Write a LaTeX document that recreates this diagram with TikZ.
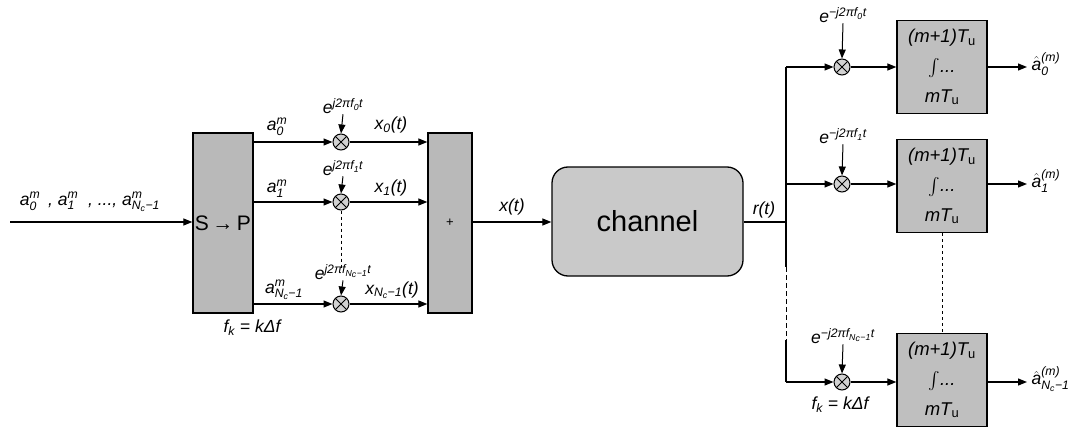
\documentclass[tikz,border=0pt]{standalone}
\usepackage{amsmath}
\usepackage{fontspec}
\setmainfont{Liberation Sans}
\usetikzlibrary{arrows.meta,calc}
\begin{document}
\begin{tikzpicture}[x=1pt,y=-1pt,
  line width=1.2pt,
  arr/.style={-{Triangle[length=9pt,width=7pt]}},
  tallbox/.style={draw, line width=1.3pt, fill=gray!55, inner sep=0, minimum width=#1, minimum height=180pt},
  intbox/.style={draw, line width=1.3pt, fill=gray!50, inner sep=0, minimum width=90pt, minimum height=93pt},
  chbox/.style={draw, line width=1.3pt, fill=gray!42, rounded corners=16pt, minimum width=191pt, minimum height=109pt, font=\fontsize{29}{34}\selectfont},
  mult/.style={circle, draw, line width=1pt, fill=gray!35, minimum size=16pt, inner sep=0,
    path picture={\draw[line width=0.9pt] (path picture bounding box.north west) -- (path picture bounding box.south east)
      (path picture bounding box.north east) -- (path picture bounding box.south west);}},
  lab/.style={inner sep=0, font=\fontsize{17.5}{20}\selectfont\itshape},
  blab/.style={inner sep=0, font=\fontsize{18.5}{21}\selectfont\itshape},
  dashbus/.style={line width=1pt, dash pattern=on 5pt off 3pt},
  dotline/.style={line width=1pt, dash pattern=on 3pt off 3pt}
]
\useasboundingbox (0,0) rectangle (1088,428);

% ---------- transmitter ----------
\coordinate (in) at (10,222);
\node[lab] (inlab) at (90,202) {a$_\text{0}^\text{m}$\, , a$_\text{1}^\text{m}$\ \ , ..., a$_{\text{N}_\text{c}\text{−1}}^\text{m}$};
\node[tallbox=60pt, font=\fontsize{21}{24}\selectfont] (sp) at (223,223) {S\,→\,P};
\node[tallbox=44pt, font=\fontsize{13}{15}\selectfont] (sum) at (450,223) {+};
\draw[arr] (in) -- (sp.west |- in);

\node[mult] (m0) at (341,142) {};
\node[mult] (m1) at (341,202) {};
\node[mult] (m2) at (341,304) {};

\foreach \m in {m0,m1,m2}{
  \draw[arr] (sp.east |- \m) -- (\m.west);
  \draw[arr] (\m.east) -- (sum.west |- \m);
}
\draw[dotline] (m1.south) -- (341,270);

\node[lab] (e0) at (343,106) {e$^{\text{j2πf}_\text{0}\text{t}}$};
\node[lab] (e1) at (343,168) {e$^{\text{j2πf}_\text{1}\text{t}}$};
\node[lab] (e2) at (343,272) {e$^{\text{j2πf}_{\text{N}_\text{c}\text{−1}}\text{t}}$};
\draw[arr, line width=1pt] (e0.south) -- (m0.north);
\draw[arr, line width=1pt] (e1.south) -- (m1.north);
\draw[arr, line width=1pt] (e2.south) -- (m2.north);

\node[lab] (a0) at (277,127) {a$_\text{0}^\text{m}$};
\node[lab] (a1) at (277,189) {a$_\text{1}^\text{m}$};
\node[lab] (a2) at (284,290) {a$_{\text{N}_\text{c}\text{−1}}^\text{m}$};
\node[lab] (x0) at (391,125) {x$_\text{0}$(t)};
\node[lab] (x1) at (391,188) {x$_\text{1}$(t)};
\node[lab] (x2) at (392,290) {x$_{\text{N}_\text{c}\text{−1}}$(t)};
\node[lab] (fk1) at (252,328) {f$_\text{k}$ = kΔf};

% ---------- channel ----------
\node[chbox] (ch) at (647.5,221.5) {channel};
\draw[arr] (sum.east |- 0,222) -- (ch.west |- 0,222);
\node[lab] (xt) at (512,207) {x(t)};
\node[lab] (rt) at (764,210) {r(t)};

% ---------- receiver ----------
\coordinate (bj) at (786,222);
\coordinate (bt) at (786,67);
\coordinate (bm) at (786,184);
\coordinate (bb) at (786,382);
\coordinate (bd1) at (786,267);
\coordinate (bd2) at (786,340);
\draw (ch.east |- bj) -- (bj);
\draw (bt) -- (bd1);
\draw[dashbus] (bd1) -- (bd2);
\draw (bd2) -- (bb);

\node[mult] (n0) at (842,67) {};
\node[mult] (n1) at (842,184) {};
\node[mult] (n2) at (842,382) {};
\node[intbox] (b0) at (942,67) {};
\node[intbox] (b1) at (942,186) {};
\node[intbox] (b2) at (942,380) {};

\draw[arr] (bt) -- (n0.west);
\draw[arr] (bm) -- (n1.west);
\draw[arr] (bb) -- (n2.west);
\foreach \n/\b in {n0/b0,n1/b1,n2/b2}{
  \draw[arr] (\n.east) -- (\b.west |- \n);
}
\draw[dotline] (b1.south) -- (b2.north);

\foreach \b in {b0,b1,b2}{
  \node[blab] at ([yshift=29pt]\b.center) {(m+1)T$_\text{\upshape u}$};
  \node[blab] at ([yshift=-1pt]\b.center) {$\int$...};
  \node[blab] at ([yshift=-30pt]\b.center) {mT$_\text{\upshape u}$};
}

\node[lab] (r0) at (843,15) {e$^{\text{−j2πf}_\text{0}\text{t}}$};
\node[lab] (r1) at (843,136) {e$^{\text{−j2πf}_\text{1}\text{t}}$};
\node[lab] (r2) at (843,336) {e$^{\text{−j2πf}_{\text{N}_\text{c}\text{−1}}\text{t}}$};
\draw[arr, line width=1pt] (r0.south) -- (n0.north);
\draw[arr, line width=1pt] (r1.south) -- (n1.north);
\draw[arr, line width=1pt] (r2.south) -- (n2.north);

\coordinate (o0) at (1027,67);
\coordinate (o1) at (1027,184);
\coordinate (o2) at (1027,382);
\draw[arr] (b0.east |- o0) -- (o0);
\draw[arr] (b1.east |- o1) -- (o1);
\draw[arr] (b2.east |- o2) -- (o2);
\node[lab, anchor=west] (h0) at (1031,64) {$\hat{\text{a}}_\text{0}^\text{(m)}$};
\node[lab, anchor=west] (h1) at (1031,181) {$\hat{\text{a}}_\text{1}^\text{(m)}$};
\node[lab, anchor=west] (h2) at (1031,379) {$\hat{\text{a}}_{\text{N}_\text{c}\text{−1}}^\text{(m)}$};
\node[lab] (fk2) at (840,405) {f$_\text{k}$ = kΔf};
\end{tikzpicture}
\end{document}
